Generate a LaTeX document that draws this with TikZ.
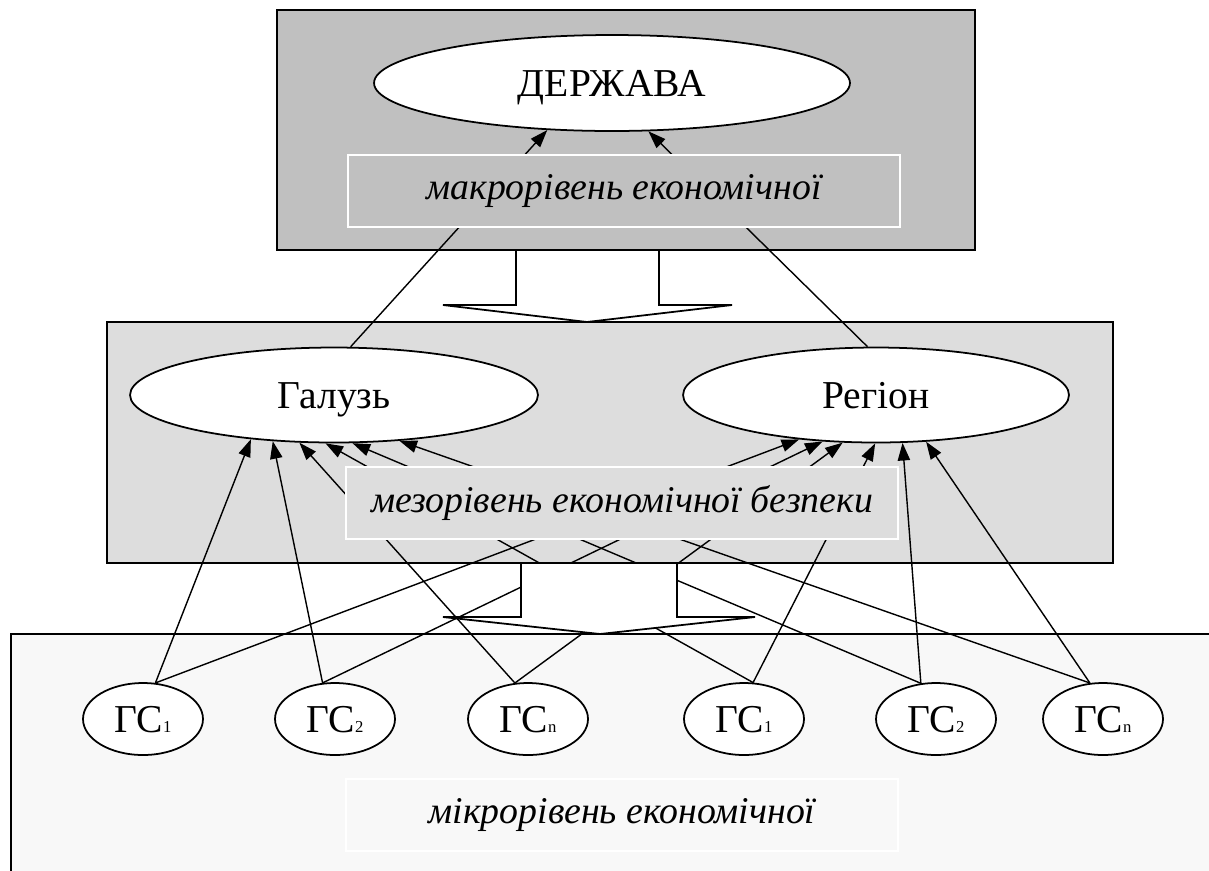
\documentclass[tikz,border=0pt]{standalone}
\usepackage{fontspec}
\setmainfont{Liberation Serif}
\usetikzlibrary{shapes.geometric,arrows.meta}
\definecolor{macrogray}{RGB}{192,192,192}
\definecolor{mezogray}{RGB}{221,221,221}
\definecolor{microgray}{RGB}{248,248,248}

\begin{document}
\begin{tikzpicture}[x=0.02cm,y=-0.02cm,
    every node/.style={font=\fontsize{22.5}{26}\selectfont},
    levelbox/.style={draw=black,line width=1.2pt},
    oval/.style={ellipse,draw,fill=white,line width=1pt,inner sep=0pt,text height=14.8pt,text depth=0pt},
    gsoval/.style={oval,minimum width=2.4cm,minimum height=1.44cm},
    levellabel/.style={draw=white,line width=1pt,minimum width=11.04cm,minimum height=1.44cm,inner sep=0pt,font=\fontsize{21.5}{25}\selectfont\itshape},
    link/.style={line width=0.8pt,-{Triangle[length=10pt,width=7pt]}},
    blockarrow/.style={draw=black,line width=1pt,fill=white}]
    \useasboundingbox (0,0) rectangle (1209,870);
    \clip (0,0) rectangle (1209,870);

    \draw[levelbox,fill=macrogray] (277,10) rectangle (975,250);
    \draw[levelbox,fill=mezogray] (107,322) rectangle (1113,563);
    \draw[levelbox,fill=microgray] (11,634) rectangle (1240,900);

    \node[oval,minimum width=9.52cm,minimum height=1.92cm] (derzhava) at (612,83) {ДЕРЖАВА};
    \node[oval,minimum width=8.16cm,minimum height=1.9cm] (galuz) at (334,395) {Галузь};
    \node[oval,minimum width=7.72cm,minimum height=1.9cm] (region) at (876,395) {Регіон};

    \foreach \i/\x/\s in {1/143/1, 2/335/2, 3/528/n, 4/744/1, 5/936/2, 6/1103/n}
        \node[gsoval] (gs\i) at (\x,719) {ГС{\fontsize{9.5}{9.5}\selectfont\s}};

    \draw[link] (galuz.71) -- (derzhava.216);
    \draw[link] (region.100) -- (derzhava.307);

    \foreach \i/\a/\g/\r in {1/71/208/210, 2/109/217/221, 3/110/234/235, 4/76/260/269, 5/113/291/299, 6/110/325/317} {
        \draw[link] (gs\i.\a) -- (galuz.\g);
        \draw[link] (gs\i.\a) -- (region.\r);
    }

    \draw[blockarrow] (516,251) -- (516,305) -- (443,305) -- (587,322) -- (732,305) -- (659,305) -- (659,251);
    \draw[blockarrow] (521,564) -- (521,617) -- (443,617) -- (600,634) -- (755,617) -- (677,617) -- (677,564);

    \node[levellabel,fill=macrogray] (macro) at (624,191) {макрорівень економічної};
    \node[levellabel,fill=mezogray] (mezo) at (622,503) {мезорівень економічної безпеки};
    \node[levellabel,fill=microgray] (micro) at (622,815) {мікрорівень економічної};
\end{tikzpicture}
\end{document}
